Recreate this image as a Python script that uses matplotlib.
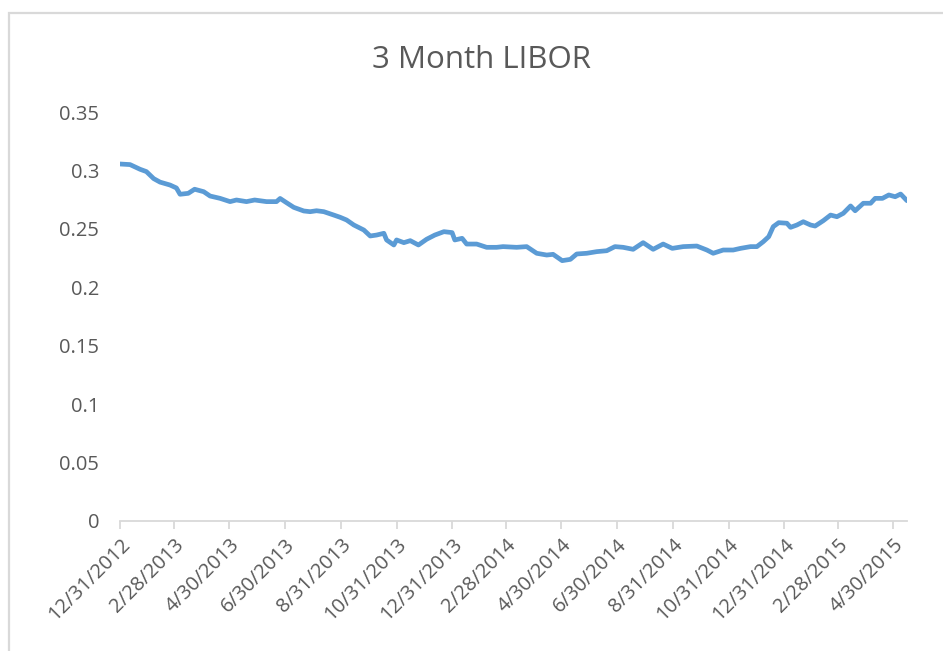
import numpy as np
import pandas as pd
import matplotlib
matplotlib.use('Agg')
import matplotlib.pyplot as plt
from matplotlib.patches import Rectangle

# 3 month LIBOR
dates = ['2012-12-31', '2013-01-11', '2013-01-22', '2013-01-29', '2013-02-06',
         '2013-02-13', '2013-02-24', '2013-03-03', '2013-03-07', '2013-03-16',
         '2013-03-23', '2013-04-02', '2013-04-09', '2013-04-20', '2013-05-01',
         '2013-05-08', '2013-05-19', '2013-05-28', '2013-06-10', '2013-06-21',
         '2013-06-25', '2013-07-02', '2013-07-10', '2013-07-21', '2013-07-28',
         '2013-08-04', '2013-08-12', '2013-08-23', '2013-08-30', '2013-09-06',
         '2013-09-14', '2013-09-25', '2013-10-02', '2013-10-09', '2013-10-17',
         '2013-10-20', '2013-10-28', '2013-10-31', '2013-11-08', '2013-11-15',
         '2013-11-24', '2013-12-03', '2013-12-12', '2013-12-22', '2013-12-31',
         '2014-01-03', '2014-01-11', '2014-01-16', '2014-01-27', '2014-02-07',
         '2014-02-18', '2014-02-25', '2014-03-12', '2014-03-23', '2014-04-03',
         '2014-04-14', '2014-04-21', '2014-05-01', '2014-05-10', '2014-05-17',
         '2014-05-28', '2014-06-08', '2014-06-19', '2014-06-28', '2014-07-07',
         '2014-07-18', '2014-07-29', '2014-08-09', '2014-08-20', '2014-08-30',
         '2014-09-11', '2014-09-26', '2014-10-07', '2014-10-14', '2014-10-25',
         '2014-11-05', '2014-11-13', '2014-11-24', '2014-12-01', '2014-12-08',
         '2014-12-14', '2014-12-19', '2014-12-25', '2015-01-03', '2015-01-07',
         '2015-01-14', '2015-01-21', '2015-01-29', '2015-02-03', '2015-02-12',
         '2015-02-20', '2015-02-27', '2015-03-06', '2015-03-14', '2015-03-19',
         '2015-03-28', '2015-04-05', '2015-04-10', '2015-04-18', '2015-04-25',
         '2015-05-02', '2015-05-08', '2015-05-15']

libor = [0.3055, 0.3050, 0.3010, 0.2990, 0.2930,
         0.2900, 0.2875, 0.2850, 0.2796, 0.2804,
         0.2839, 0.2818, 0.2781, 0.2761, 0.2733,
         0.2747, 0.2733, 0.2747, 0.2733, 0.2733,
         0.2760, 0.2724, 0.2684, 0.2653, 0.2647,
         0.2655, 0.2647, 0.2618, 0.2599, 0.2576,
         0.2533, 0.2490, 0.2439, 0.2447, 0.2462,
         0.2405, 0.2362, 0.2405, 0.2382, 0.2399,
         0.2362, 0.2411, 0.2447, 0.2476, 0.2468,
         0.2405, 0.2419, 0.2370, 0.2370, 0.2342,
         0.2342, 0.2348, 0.2342, 0.2348, 0.2291,
         0.2276, 0.2282, 0.2228, 0.2239, 0.2285,
         0.2291, 0.2305, 0.2313, 0.2348, 0.2342,
         0.2325, 0.2382, 0.2325, 0.2370, 0.2333,
         0.2348, 0.2353, 0.2319, 0.2291, 0.2319,
         0.2319, 0.2333, 0.2348, 0.2348, 0.2390,
         0.2433, 0.2519, 0.2553, 0.2548, 0.2513,
         0.2533, 0.2561, 0.2533, 0.2524, 0.2570,
         0.2618, 0.2604, 0.2633, 0.2696, 0.2655,
         0.2719, 0.2719, 0.2761, 0.2761, 0.2790,
         0.2775, 0.2798, 0.2741]

tick_dates = ['2012-12-31', '2013-02-28', '2013-04-30', '2013-06-30', '2013-08-31',
              '2013-10-31', '2013-12-31', '2014-02-28', '2014-04-30', '2014-06-30',
              '2014-08-31', '2014-10-31', '2014-12-31', '2015-02-28', '2015-04-30']

y_ticks = [0, 0.05, 0.1, 0.15, 0.2, 0.25, 0.3, 0.35]

dates = pd.to_datetime(dates)
tick_dates = pd.to_datetime(tick_dates)
tick_labels = [f'{d.month}/{d.day}/{d.year}' for d in tick_dates]

plt.rcParams['font.family'] = ['Open Sans', 'DejaVu Sans']
text_col = '#595959'
grid_col = '#D9D9D9'

fig = plt.figure(figsize=(9.43, 6.51), dpi=100)
ax = fig.add_axes([120/943, 1 - 521/651, (907 - 120)/943, (521 - 112)/651])

ax.plot(dates, libor, color='#5B9BD5', lw=3.4, solid_joinstyle='round',
        solid_capstyle='round')

ax.set_xlim(dates[0], dates[-1])
ax.set_ylim(0, 0.35)
ax.set_yticks(y_ticks)
ax.set_yticklabels([f'{v:g}' for v in y_ticks])

ax.set_xticks(tick_dates)
ax.set_xticklabels(tick_labels, rotation=45, ha='right', rotation_mode='anchor')

for s in ['top', 'right', 'left']:
    ax.spines[s].set_visible(False)
ax.spines['bottom'].set_color(grid_col)
ax.spines['bottom'].set_linewidth(1.3)

ax.tick_params(axis='y', length=0, pad=15, labelsize=14.5, labelcolor=text_col)
ax.tick_params(axis='x', length=6, width=1.3, color=grid_col, pad=4,
               labelsize=14.5, labelcolor=text_col)

fig.text(482/943, 1 - 60/651, '3 Month LIBOR', ha='center', va='center',
         fontsize=22.5, color=text_col)

# chart area border
fig.patches.append(Rectangle((9/943, -0.1), 1.2, 1 - 13/651 + 0.1,
                             transform=fig.transFigure, fill=False,
                             edgecolor=grid_col, lw=1.6))

fig.savefig('out.png', dpi=100)
